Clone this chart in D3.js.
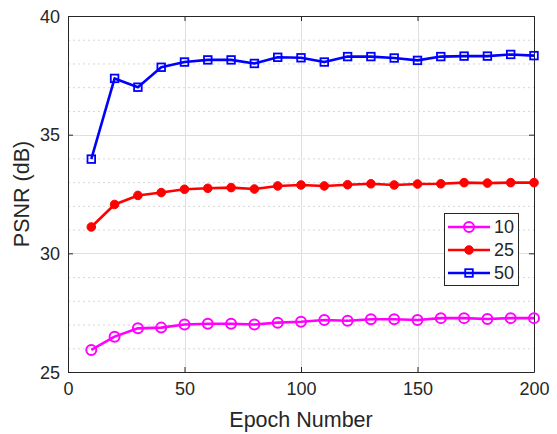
<!DOCTYPE html>
<html><head><meta charset="utf-8">
<script src="https://cdn.jsdelivr.net/npm/d3@7"></script>
<style>body{margin:0;background:#fff}svg{display:block;font-family:Arial,"Liberation Sans",sans-serif}</style>
</head><body>
<svg id="c" width="557" height="434"></svg>
<script>
const epochs = [10,20,30,40,50,60,70,80,90,100,110,120,130,140,150,160,170,180,190,200];
const psnr10 = [25.93,26.49,26.84,26.87,27.00,27.03,27.03,27.00,27.08,27.12,27.19,27.16,27.22,27.22,27.19,27.27,27.27,27.23,27.27,27.27];
const psnr25 = [31.11,32.06,32.44,32.56,32.70,32.74,32.77,32.71,32.84,32.88,32.84,32.89,32.93,32.88,32.92,32.93,32.98,32.96,32.98,32.98];
const psnr50 = [33.97,37.37,37.00,37.84,38.06,38.15,38.15,38.00,38.26,38.24,38.06,38.29,38.29,38.23,38.13,38.29,38.31,38.31,38.38,38.33];
const seriesNames = ["10","25","50"];
const xTicks = [0,50,100,150,200];
const yTicks = [25,30,35,40];
const yMinor = [26,27,28,29,31,32,33,34,36,37,38,39];

const series = [
  {name: seriesNames[0], values: psnr10, color: "#ff00ff", marker: "openCircle"},
  {name: seriesNames[1], values: psnr25, color: "#ff0000", marker: "dot"},
  {name: seriesNames[2], values: psnr50, color: "#0000ff", marker: "square"}
];

const svg = d3.select("#c");
const L = 68, R = 534, T = 16, B = 372;
const x = d3.scaleLinear().domain([0,200]).range([L,R]);
const y = d3.scaleLinear().domain([25,40]).range([B,T]);
const txt = "#262626";

// grid
const g = svg.append("g");
g.selectAll(".ym").data(yMinor).enter().append("line")
  .attr("x1",L).attr("x2",R).attr("y1",d=>y(d)+0.5).attr("y2",d=>y(d)+0.5)
  .attr("stroke","#d6d6d6").attr("stroke-width",1).attr("stroke-dasharray","2,3");
g.selectAll(".yM").data(yTicks.slice(1,-1)).enter().append("line")
  .attr("x1",L).attr("x2",R).attr("y1",d=>Math.round(y(d))+0.5).attr("y2",d=>Math.round(y(d))+0.5)
  .attr("stroke","#dfdfdf").attr("stroke-width",1);
g.selectAll(".xM").data(xTicks.slice(1,-1)).enter().append("line")
  .attr("y1",T).attr("y2",B).attr("x1",d=>Math.round(x(d))+0.5).attr("x2",d=>Math.round(x(d))+0.5)
  .attr("stroke","#dfdfdf").attr("stroke-width",1);

// axes
const xAxis = d3.axisBottom(x).tickValues(xTicks).tickSizeInner(-5).tickSizeOuter(0).tickPadding(10);
const yAxis = d3.axisLeft(y).tickValues(yTicks).tickSizeInner(-5).tickSizeOuter(0).tickPadding(8);
const xa = svg.append("g").attr("transform",`translate(0,${B})`).call(xAxis);
const ya = svg.append("g").attr("transform",`translate(${L},0)`).call(yAxis);
const xt = svg.append("g").attr("transform",`translate(0,${T})`).call(d3.axisTop(x).tickValues(xTicks).tickSizeInner(-5).tickSizeOuter(0).tickFormat(""));
const yr = svg.append("g").attr("transform",`translate(${R},0)`).call(d3.axisRight(y).tickValues(yTicks).tickSizeInner(-5).tickSizeOuter(0).tickFormat(""));
[xa,ya,xt,yr].forEach(a=>{
  a.select(".domain").attr("stroke","#262626").attr("stroke-width",1);
  a.selectAll(".tick line").attr("stroke","#262626");
  a.selectAll("text").attr("fill",txt).style("font-size","18px").style("font-family","Arial,'Liberation Sans',sans-serif");
});
ya.selectAll("text").attr("dy","0.35em");

// lines
const line = d3.line().x((d,i)=>x(epochs[i])).y(d=>y(d));
function drawMarker(sel, type, color){
  if(type==="openCircle"){
    sel.append("circle").attr("r",5).attr("fill","none").attr("stroke",color).attr("stroke-width",2);
  } else if(type==="dot"){
    sel.append("circle").attr("r",4.3).attr("fill",color).attr("stroke",color).attr("stroke-width",1);
  } else {
    sel.append("rect").attr("x",-3.8).attr("y",-3.8).attr("width",7.6).attr("height",7.6)
      .attr("fill","none").attr("stroke",color).attr("stroke-width",1.8);
  }
}
series.forEach(s=>{
  svg.append("path").datum(s.values).attr("d",line).attr("fill","none")
    .attr("stroke",s.color).attr("stroke-width",2.6).attr("stroke-linejoin","round");
  s.values.forEach((v,i)=>{
    const m = svg.append("g").attr("transform",`translate(${x(epochs[i])},${y(v)})`);
    drawMarker(m, s.marker, s.color);
  });
});

// labels
svg.append("text").attr("x",(L+R)/2).attr("y",427).attr("text-anchor","middle")
  .attr("fill",txt).style("font-size","21.5px").text("Epoch Number");
svg.append("text").attr("transform",`translate(29,${(T+B)/2}) rotate(-90)`).attr("text-anchor","middle")
  .attr("fill",txt).style("font-size","21.5px").text("PSNR (dB)");

// legend
const lg = svg.append("g");
lg.append("rect").attr("x",444.5).attr("y",213.5).attr("width",74).attr("height",72)
  .attr("fill","#fff").attr("stroke","#262626").attr("stroke-width",1);
series.forEach((s,i)=>{
  const yy = 227 + i*23;
  lg.append("line").attr("x1",448).attr("x2",490).attr("y1",yy).attr("y2",yy)
    .attr("stroke",s.color).attr("stroke-width",2.6);
  const m = lg.append("g").attr("transform",`translate(469,${yy})`);
  drawMarker(m, s.marker, s.color);
  lg.append("text").attr("x",494).attr("y",yy).attr("dy","0.36em").attr("fill",txt)
    .style("font-size","18px").text(s.name);
});
</script>
</body></html>
